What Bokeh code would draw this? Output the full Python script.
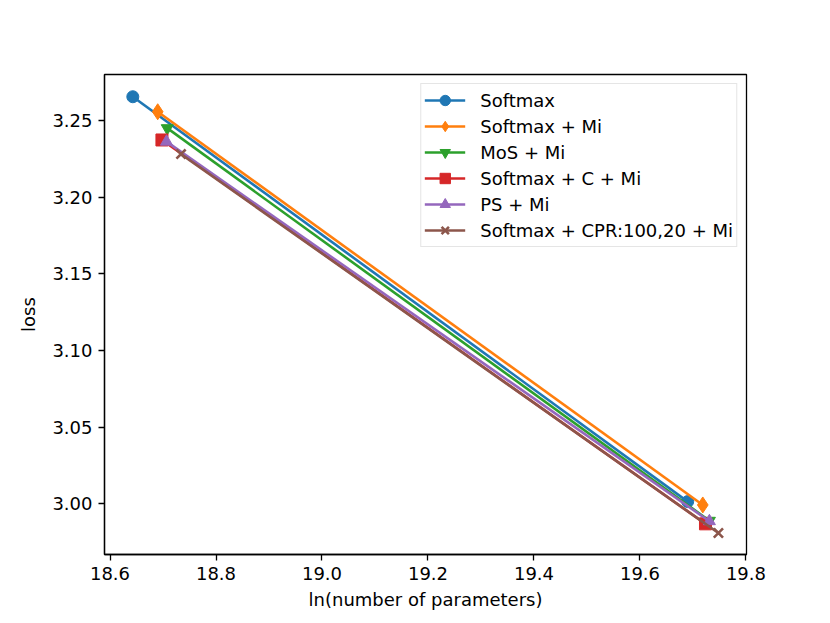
from bokeh.plotting import figure
from bokeh.models import Range1d, FixedTicker, NumeralTickFormatter
from bokeh.embed import file_html
from bokeh.resources import INLINE

# data
series_names = ["Softmax", "Softmax + Mi", "MoS + Mi", "Softmax + C + Mi", "PS + Mi",
                "Softmax + CPR:100,20 + Mi"]
softmax_x = [18.643, 19.690]
softmax_y = [3.2655, 3.0015]
softmax_mi_x = [18.690, 19.7185]
softmax_mi_y = [3.2557, 2.9993]
mos_mi_x = [18.708, 19.731]
mos_mi_y = [3.2450, 2.9890]
softmax_c_mi_x = [18.698, 19.7236]
softmax_c_mi_y = [3.2373, 2.9870]
ps_mi_x = [18.7066, 19.731]
ps_mi_y = [3.2362, 2.9887]
cpr_x = [18.734, 19.748]
cpr_y = [3.2281, 2.9810]

x_ticks = [18.6, 18.8, 19.0, 19.2, 19.4, 19.6, 19.8]
y_ticks = [3.00, 3.05, 3.10, 3.15, 3.20, 3.25]

colors = ["#1f77b4", "#ff7f0e", "#2ca02c", "#d62728", "#9467bd", "#8c564b"]
markers = ["circle", "diamond", "inverted_triangle", "square", "triangle", "x"]
xs = [softmax_x, softmax_mi_x, mos_mi_x, softmax_c_mi_x, ps_mi_x, cpr_x]
ys = [softmax_y, softmax_mi_y, mos_mi_y, softmax_c_mi_y, ps_mi_y, cpr_y]

FONT = "DejaVu Sans"
FS = "18px"

p = figure(width=814, height=615, output_backend="svg", toolbar_location=None,
           x_range=Range1d(18.5896, 19.801), y_range=Range1d(2.967, 3.280),
           min_border_left=104, min_border_right=68, min_border_top=74, min_border_bottom=61)

p.xgrid.visible = False
p.ygrid.visible = False
p.outline_line_color = "black"
p.outline_line_width = 1.3
p.outline_line_alpha = 1.0
p.background_fill_color = "white"
p.border_fill_color = "white"

for i in range(6):
    p.line(xs[i], ys[i], line_color=colors[i], line_width=2.6, legend_label=series_names[i])
    if markers[i] == "x":
        p.scatter(xs[i], ys[i], marker="x", size=13, line_color=colors[i], line_width=2.6,
                  legend_label=series_names[i])
    elif markers[i] == "diamond":
        p.scatter(xs[i], ys[i], marker="diamond", size=16, fill_color=colors[i],
                  line_color=colors[i], legend_label=series_names[i])
    else:
        p.scatter(xs[i], ys[i], marker=markers[i], size=12, fill_color=colors[i],
                  line_color=colors[i], legend_label=series_names[i])

for ax, ticks, fmt, label in [(p.xaxis[0], x_ticks, "0.0", "ln(number of parameters)"),
                              (p.yaxis[0], y_ticks, "0.00", "loss")]:
    ax.ticker = FixedTicker(ticks=ticks, minor_ticks=[])
    ax.formatter = NumeralTickFormatter(format=fmt)
    ax.axis_label = label
    ax.axis_label_text_font = FONT
    ax.axis_label_text_font_size = FS
    ax.axis_label_text_font_style = "normal"
    ax.axis_label_text_color = "black"
    ax.major_label_text_font = FONT
    ax.major_label_text_font_size = FS
    ax.major_label_text_color = "black"
    ax.axis_line_color = "black"
    ax.axis_line_width = 1.3
    ax.major_tick_line_color = "black"
    ax.major_tick_line_width = 1.3
    ax.major_tick_out = 6
    ax.major_tick_in = 0
    ax.minor_tick_line_color = None
    ax.major_label_standoff = 6

p.xaxis[0].axis_label_standoff = 6
p.yaxis[0].axis_label_standoff = 10

lg = p.legend[0]
lg.location = "top_right"
lg.margin = 9
lg.padding = 3
lg.spacing = 0
lg.glyph_width = 41
lg.glyph_height = 26
lg.label_height = 20
lg.label_standoff = 15
lg.label_text_font = FONT
lg.label_text_font_size = FS
lg.label_text_color = "black"
lg.border_line_color = "#cccccc"
lg.border_line_width = 1
lg.background_fill_alpha = 0.8

open("out.html", "w").write(file_html(p, INLINE))
